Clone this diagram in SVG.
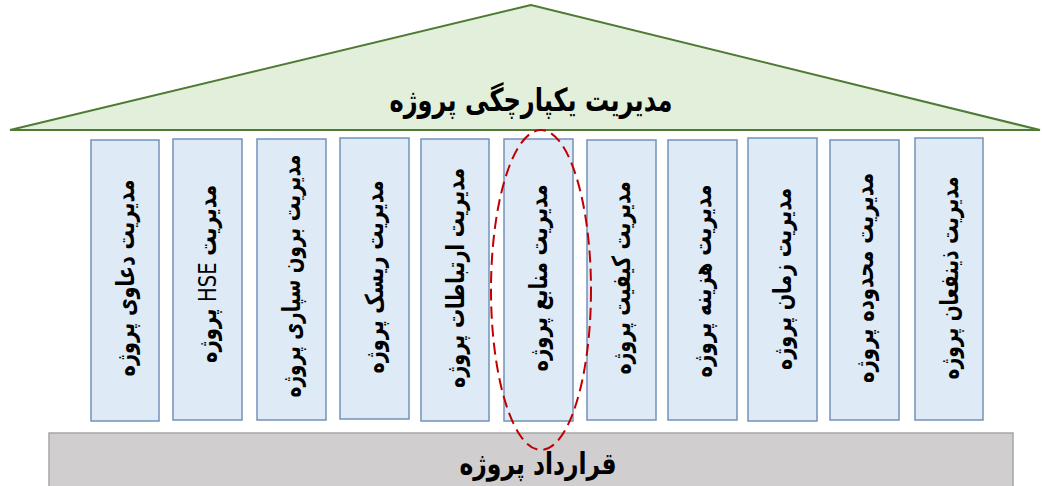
<svg xmlns="http://www.w3.org/2000/svg" width="1042" height="486" viewBox="0 0 1042 486">
<style>
.t{font-family:"DejaVu Sans","Noto Sans",sans-serif;font-weight:bold;fill:#000;text-anchor:middle}
.p{fill:#DEEBF7;stroke:#7392B9;stroke-width:1.5}
.pt{font-size:25px}
</style>
<rect width="1042" height="486" fill="#fff"/>
<g id="roof">
<polygon points="531,5 10,130 1040,130" fill="#E2EFDA" stroke="#4F7A33" stroke-width="2"/>
<text class="t" x="531" y="111" font-size="32" direction="rtl" textLength="283" lengthAdjust="spacingAndGlyphs">مدیریت یکپارچگی پروژه</text>
</g>
<g id="p1"><rect class="p" x="91" y="140" width="68" height="281"/><text class="t pt" direction="rtl" transform="translate(125,278) rotate(-90)" y="9" textLength="197" lengthAdjust="spacingAndGlyphs">مدیریت دعاوی پروژه</text></g>
<g id="p2"><rect class="p" x="173" y="139" width="69" height="281"/><text class="t pt" direction="rtl" transform="translate(207,274) rotate(-90)" y="9" textLength="178" lengthAdjust="spacingAndGlyphs">مدیریت <tspan font-weight="normal">HSE</tspan> پروژه</text></g>
<g id="p3"><rect class="p" x="257" y="139" width="69" height="281"/><text class="t pt" direction="rtl" transform="translate(291,276) rotate(-90)" y="9" textLength="243" lengthAdjust="spacingAndGlyphs">مدیریت برون سپاری پروژه</text></g>
<g id="p4"><rect class="p" x="340" y="138" width="69" height="281"/><text class="t pt" direction="rtl" transform="translate(374,277) rotate(-90)" y="9" textLength="193" lengthAdjust="spacingAndGlyphs">مدیریت ریسک پروژه</text></g>
<g id="p5"><rect class="p" x="421" y="139" width="68" height="282"/><text class="t pt" direction="rtl" transform="translate(455,278) rotate(-90)" y="9" textLength="220" lengthAdjust="spacingAndGlyphs">مدیریت ارتباطات پروژه</text></g>
<g id="p6"><rect class="p" x="504" y="139" width="69" height="282"/><text class="t pt" direction="rtl" transform="translate(538,278) rotate(-90)" y="9" textLength="187" lengthAdjust="spacingAndGlyphs">مدیریت منابع پروژه</text></g>
<g id="p7"><rect class="p" x="587" y="140" width="69" height="280"/><text class="t pt" direction="rtl" transform="translate(621,278) rotate(-90)" y="9" textLength="193" lengthAdjust="spacingAndGlyphs">مدیریت کیفیت پروژه</text></g>
<g id="p8"><rect class="p" x="668" y="140" width="69" height="280"/><text class="t pt" direction="rtl" transform="translate(702,281) rotate(-90)" y="9" textLength="193" lengthAdjust="spacingAndGlyphs">مدیریت هزینه پروژه</text></g>
<g id="p9"><rect class="p" x="748" y="138" width="69" height="283"/><text class="t pt" direction="rtl" transform="translate(782,279) rotate(-90)" y="9" textLength="182" lengthAdjust="spacingAndGlyphs">مدیریت زمان پروژه</text></g>
<g id="p10"><rect class="p" x="830" y="140" width="69" height="280"/><text class="t pt" direction="rtl" transform="translate(864,278) rotate(-90)" y="9" textLength="210" lengthAdjust="spacingAndGlyphs">مدیریت محدوده پروژه</text></g>
<g id="p11"><rect class="p" x="915" y="138" width="68" height="282"/><text class="t pt" direction="rtl" transform="translate(949,278) rotate(-90)" y="9" textLength="203" lengthAdjust="spacingAndGlyphs">مدیریت ذینفعان پروژه</text></g>
<g id="base">
<rect x="49" y="433" width="964" height="60" fill="#D0CECE" stroke="#A6A6A6" stroke-width="1.5"/>
<text class="t" x="538" y="474" font-size="30" direction="rtl" textLength="157" lengthAdjust="spacingAndGlyphs">قرارداد پروژه</text>
</g>
<g id="connectors">
<ellipse cx="541" cy="290" rx="50" ry="160" fill="none" stroke="#C00000" stroke-width="2" stroke-dasharray="12,6"/>
</g>
</svg>
